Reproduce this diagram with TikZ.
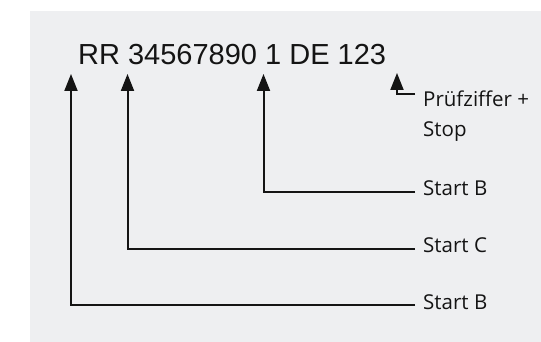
\documentclass[tikz,border=0pt]{standalone}
\usepackage{fontspec}
\setmainfont{Open Sans}
\newfontfamily\codefont{Liberation Sans}
\usetikzlibrary{arrows.meta}
\definecolor{BcBack}{RGB}{238,239,241}
\definecolor{BcInk}{RGB}{20,20,20}
\tikzset{
  bc/code/.style={
    anchor=base west,
    inner sep=0pt,
    text=BcInk,
    font=\codefont\fontsize{29}{30}\selectfont
  },
  bc/label/.style={
    anchor=west,
    inner xsep=8pt,
    inner ysep=0pt,
    text height=8pt,
    text depth=0pt,
    text=BcInk,
    font=\fontsize{20.5}{30}\selectfont
  },
  bc/arrow/.style={-{Triangle[length=17pt,width=13pt]}, line width=2pt, draw=BcInk}
}
\begin{document}
\begin{tikzpicture}[x=1pt,y=1pt]
  \useasboundingbox (0,0) rectangle (541,342);
  \fill[BcBack] (30,0) rectangle (541,331);
  \node[bc/code] (code) at (78,277) {RR 34567890 1 DE 123};
  % arrow tips below the code
  \coordinate (tipRR) at (71,268);
  \coordinate (tipNum) at (127.5,268);
  \coordinate (tipChk) at (263.5,268);
  \coordinate (tipEnd) at (397,269);
  % labels on the right
  \node[bc/label] (startB) at (415,150) {Start B};
  \node[bc/label] (startC) at (415,93) {Start C};
  \node[bc/label] (startBB) at (415,36.5) {Start B};
  \node[bc/label,anchor=north west,align=left,text height=,text depth=] (stop) at (415,251.5) {Prüfziffer +\\Stop};
  \draw[bc/arrow] (startB.west) -| (tipChk);
  \draw[bc/arrow] (startC.west) -| (tipNum);
  \draw[bc/arrow] (startBB.west) -| (tipRR);
  \draw[bc/arrow] ([yshift=-4pt]stop.north west) -| (tipEnd);
\end{tikzpicture}
\end{document}
